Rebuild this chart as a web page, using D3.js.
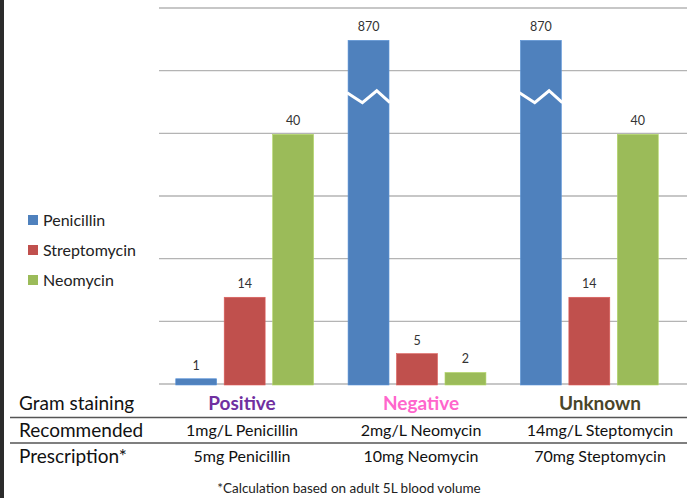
<!DOCTYPE html>
<html>
<head>
<meta charset="utf-8">
<script src="https://cdn.jsdelivr.net/npm/d3@7"></script>
<style>
  body { margin: 0; background: #fff; }
  svg { display: block; font-family: Lato, "Open Sans", sans-serif; }
</style>
</head>
<body>
<svg width="687" height="498"></svg>
<script>
// chart data
var categories = ['Positive', 'Negative', 'Unknown'];
var series = ['Penicillin', 'Streptomycin', 'Neomycin'];
var penicillin = [1, 870, 870];
var streptomycin = [14, 5, 14];
var neomycin = [40, 2, 40];
var yTicks = [0, 10, 20, 30, 40, 50, 60];
var axisCap = 55;     // bars above this are drawn broken
var breakValue = 46;  // where the zigzag cut goes

// table rows under the chart
var rowLabels = ['Gram staining', 'Recommended', 'Prescription*'];
var recommended = ['1mg/L Penicillin', '2mg/L Neomycin', '14mg/L Steptomycin'];
var prescription = ['5mg Penicillin', '10mg Neomycin', '70mg Steptomycin'];
var footnote = '*Calculation based on adult 5L blood volume';

var colors = ['#4F81BD', '#C0504D', '#9BBB59'];
var catColors = ['#7030A0', '#FF66CC', '#494529'];

var values = [penicillin, streptomycin, neomycin];
var data = [];
categories.forEach(function(c, i){
    series.forEach(function(s, j){
        data.push({cat: c, series: s, value: values[j][i], color: colors[j]});
    });
});

var svg = d3.select('svg');

// dark strip on the left edge
svg.append('rect').attr('x', 0).attr('y', 0).attr('width', 4).attr('height', 498).attr('fill', '#2b2b2b');

var x0 = d3.scaleBand().domain(categories).range([158.5, 675.5]).paddingInner(0.2).paddingOuter(0.1);
var x1 = d3.scaleBand().domain(series).range([0, x0.bandwidth()]).paddingInner(0.155);
var y = d3.scaleLinear().domain([0, 60]).range([385, 9]);

// gridlines
svg.append('g')
    .selectAll('line')
    .data(yTicks)
    .enter().append('line')
    .attr('x1', 159).attr('x2', 687)
    .attr('y1', function(d){ return y(d) - 1; })
    .attr('y2', function(d){ return y(d) - 1; })
    .attr('stroke', '#b4b4b4')
    .attr('stroke-width', 1.4);

// bars
var bars = svg.append('g');
bars.selectAll('rect')
    .data(data)
    .enter().append('rect')
    .attr('x', function(d){ return x0(d.cat) + x1(d.series); })
    .attr('y', function(d){ return y(Math.min(d.value, axisCap)); })
    .attr('width', x1.bandwidth())
    .attr('height', function(d){ return y(0) - y(Math.min(d.value, axisCap)); })
    .attr('fill', function(d){ return d.color; })
    .attr('stroke', function(d){ return d3.color(d.color).brighter(0.4); })
    .attr('stroke-width', 0.6);

// zigzag break on capped bars
bars.selectAll('polyline')
    .data(data.filter(function(d){ return d.value > axisCap; }))
    .enter().append('polyline')
    .attr('points', function(d){
        var bx = x0(d.cat) + x1(d.series), w = x1.bandwidth(), yb = y(breakValue);
        return [[bx - 1, yb - 4], [bx + 0.35 * w, yb + 6], [bx + 0.7 * w, yb - 6], [bx + w + 1, yb + 6]].join(' ');
    })
    .attr('fill', 'none')
    .attr('stroke', '#fff')
    .attr('stroke-width', 3);

// value labels
svg.append('g')
    .selectAll('text')
    .data(data)
    .enter().append('text')
    .attr('x', function(d){ return x0(d.cat) + x1(d.series) + x1.bandwidth() / 2; })
    .attr('y', function(d){ return y(Math.min(d.value, axisCap)) - 9; })
    .attr('text-anchor', 'middle')
    .attr('font-size', 12.5)
    .attr('fill', '#333')
    .text(function(d){ return d.value; });

// legend
var legend = svg.append('g')
    .selectAll('g')
    .data(series)
    .enter().append('g')
    .attr('transform', function(d, i){ return 'translate(28,' + (220 + i * 30) + ')'; });
legend.append('rect')
    .attr('x', 0).attr('y', -5).attr('width', 10).attr('height', 10)
    .attr('fill', function(d, i){ return colors[i]; });
legend.append('text')
    .attr('x', 15).attr('y', 0).attr('dy', '0.35em')
    .attr('font-size', 16)
    .attr('fill', '#222')
    .text(function(d){ return d; });

// table
var col = d3.scalePoint().domain(categories).range([242, 600]);
var rowY = [403, 430, 456];

svg.append('g')
    .selectAll('text')
    .data(rowLabels)
    .enter().append('text')
    .attr('x', 19).attr('y', function(d, i){ return rowY[i]; })
    .attr('dy', '0.35em')
    .attr('font-size', 19)
    .attr('fill', '#111')
    .text(function(d){ return d; });

svg.append('g')
    .selectAll('line')
    .data([417.5, 443])
    .enter().append('line')
    .attr('x1', 10).attr('x2', 687)
    .attr('y1', function(d){ return d; }).attr('y2', function(d){ return d; })
    .attr('stroke', '#555').attr('stroke-width', 1.5);

svg.append('g')
    .selectAll('text')
    .data(categories)
    .enter().append('text')
    .attr('x', function(d){ return col(d); }).attr('y', rowY[0])
    .attr('dy', '0.35em')
    .attr('text-anchor', 'middle')
    .attr('font-size', 19)
    .attr('font-weight', 'bold')
    .attr('fill', function(d, i){ return catColors[i]; })
    .text(function(d){ return d; });

[recommended, prescription].forEach(function(row, r){
    svg.append('g')
        .selectAll('text')
        .data(row)
        .enter().append('text')
        .attr('x', function(d, i){ return col(categories[i]); }).attr('y', rowY[r + 1])
        .attr('dy', '0.35em')
        .attr('text-anchor', 'middle')
        .attr('font-size', 16)
        .attr('fill', '#111')
        .text(function(d){ return d; });
});

svg.append('text')
    .attr('x', 349).attr('y', 488).attr('dy', '0.35em')
    .attr('text-anchor', 'middle')
    .attr('font-size', 13.5)
    .attr('fill', '#222')
    .text(footnote);
</script>
</body>
</html>
